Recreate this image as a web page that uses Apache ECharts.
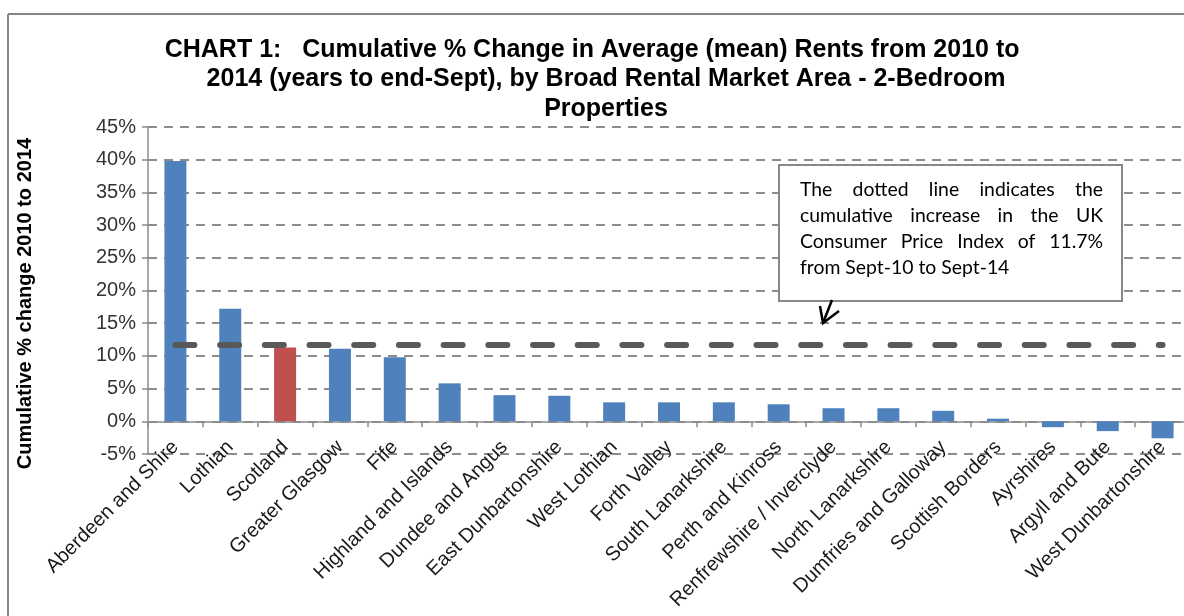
<!DOCTYPE html>
<html>
<head>
<meta charset="utf-8">
<script src="https://cdn.jsdelivr.net/npm/echarts@6/dist/echarts.min.js"></script>
<style>html,body{margin:0;padding:0;background:#fff;}#c{width:1184px;height:616px;}</style>
</head>
<body>
<div id="c"></div>
<script>
// ---- data ----
var categories = ["Aberdeen and Shire","Lothian","Scotland","Greater Glasgow","Fife","Highland and Islands","Dundee and Angus","East Dunbartonshire","West Lothian","Forth Valley","South Lanarkshire","Perth and Kinross","Renfrewshire / Inverclyde","North Lanarkshire","Dumfries and Galloway","Scottish Borders","Ayrshires","Argyll and Bute","West Dunbartonshire"];
var changePct = [39.8, 17.2, 11.3, 11.1, 9.8, 5.8, 4.0, 3.9, 2.9, 2.9, 2.9, 2.6, 2.0, 2.0, 1.6, 0.4, -0.9, -1.5, -2.6];
var highlightCategory = "Scotland";
var cpiIncrease = 11.7;
var yTicks = {min: -5, max: 45, step: 5};
var titleLines = ["CHART 1:   Cumulative % Change in Average (mean) Rents from 2010 to    ", "2014 (years to end-Sept), by Broad Rental Market Area - 2-Bedroom", "Properties"];
var yAxisTitle = "Cumulative % change 2010 to 2014";
var noteLines = ["The dotted line indicates the", "cumulative increase in the UK", "Consumer Price Index of 11.7%", "from Sept-10 to Sept-14"];

// ---- chart ----
var chart = echarts.init(document.getElementById('c'), null, {renderer: 'canvas'});
var FONT = "Liberation Sans";
var NOTE_FONT_FAMILY = "Lato";

// annotation box text, justified
var box = {x: 779, y: 165, w: 343, h: 136, padL: 21, padR: 19, firstLineY: 190, lineH: 26};
var cv = document.createElement('canvas').getContext('2d');
cv.font = "100px " + NOTE_FONT_FAMILY;
var noteSize = Math.round(209 / cv.measureText(noteLines[3]).width * 100 * 10) / 10;
cv.font = noteSize + "px " + NOTE_FONT_FAMILY;
var noteGraphics = [];
var innerW = box.w - box.padL - box.padR;
noteLines.forEach(function (line, li) {
  var words = line.split(' ');
  var y = box.firstLineY + li * box.lineH;
  var x0 = box.x + box.padL;
  if (li === noteLines.length - 1) {
    noteGraphics.push({type: 'text', x: x0, y: y, z: 101, style: {text: line, font: noteSize + 'px ' + NOTE_FONT_FAMILY, fill: '#000', textVerticalAlign: 'middle', textAlign: 'left'}});
    return;
  }
  var total = 0;
  words.forEach(function (w) { total += cv.measureText(w).width; });
  var gap = (innerW - total) / (words.length - 1);
  var x = x0;
  words.forEach(function (w) {
    noteGraphics.push({type: 'text', x: x, y: y, z: 101, style: {text: w, font: noteSize + 'px ' + NOTE_FONT_FAMILY, fill: '#000', textVerticalAlign: 'middle', textAlign: 'left'}});
    x += cv.measureText(w).width + gap;
  });
});

var option = {
  animation: false,
  backgroundColor: '#fff',
  textStyle: {fontFamily: FONT},
  title: {
    text: titleLines.join('\n'),
    left: 601,
    textAlign: 'center',
    top: 30,
    textStyle: {fontFamily: FONT, fontWeight: 'bold', fontSize: 25, lineHeight: 29.5, color: '#000', align: 'center'}
  },
  grid: {left: 148, right: -6, top: 127, bottom: 162, containLabel: false, outerBoundsMode: 'none'},
  xAxis: {
    type: 'category',
    data: categories,
    axisLine: {onZero: true, lineStyle: {color: '#8c8c8c', width: 1.5}},
    axisTick: {show: true, length: 6, lineStyle: {color: '#8c8c8c', width: 1.5}},
    axisLabel: {rotate: 45, interval: 0, margin: -10, fontFamily: FONT, fontSize: 20, color: '#1a1a1a'},
    splitLine: {show: false}
  },
  yAxis: {
    type: 'value',
    min: yTicks.min, max: yTicks.max, interval: yTicks.step,
    name: yAxisTitle,
    nameLocation: 'middle',
    nameGap: 113,
    nameTextStyle: {fontFamily: FONT, fontWeight: 'bold', fontSize: 20, color: '#000', padding: [0, 26, 0, 0]},
    axisLine: {show: true, lineStyle: {color: '#8c8c8c', width: 1.5}},
    axisTick: {show: true, length: 6, lineStyle: {color: '#8c8c8c', width: 1.5}},
    axisLabel: {formatter: '{value}%', fontFamily: FONT, fontSize: 20, color: '#333', margin: 12},
    splitLine: {show: true, lineStyle: {color: '#8c8c8c', width: 2, type: [9, 7]}}
  },
  series: [{
    type: 'bar',
    barWidth: 22,
    data: changePct.map(function (v, i) {
      return {value: v, itemStyle: {color: categories[i] === highlightCategory ? '#C0504D' : '#4F81BD'}};
    }),
    markLine: {
      silent: true,
      symbol: ['none', 'none'],
      label: {show: false},
      lineStyle: {color: '#595959', width: 6, cap: 'round', type: [19, 25.7]},
      data: [[{coord: [categories[0], cpiIncrease]}, {coord: [categories[categories.length - 1], cpiIncrease]}]],
      z: 5
    }
  }],
  graphic: [
    {type: 'line', z: 100, shape: {x1: 8, y1: 14, x2: 1184, y2: 14}, style: {stroke: '#868686', lineWidth: 2}},
    {type: 'line', z: 100, shape: {x1: 8, y1: 14, x2: 8, y2: 616}, style: {stroke: '#868686', lineWidth: 2}},
    {type: 'rect', z: 100, shape: {x: box.x, y: box.y, width: box.w, height: box.h}, style: {fill: '#fff', stroke: '#888', lineWidth: 2}},
    {type: 'polyline', z: 100, shape: {points: [[832, 300], [823, 323]]}, style: {stroke: '#000', lineWidth: 2.5, fill: null}},
    {type: 'polyline', z: 100, shape: {points: [[820, 306], [823, 323], [839, 311]]}, style: {stroke: '#000', lineWidth: 2.5, fill: null}}
  ].concat(noteGraphics)
};
chart.setOption(option);
</script>
</body>
</html>
